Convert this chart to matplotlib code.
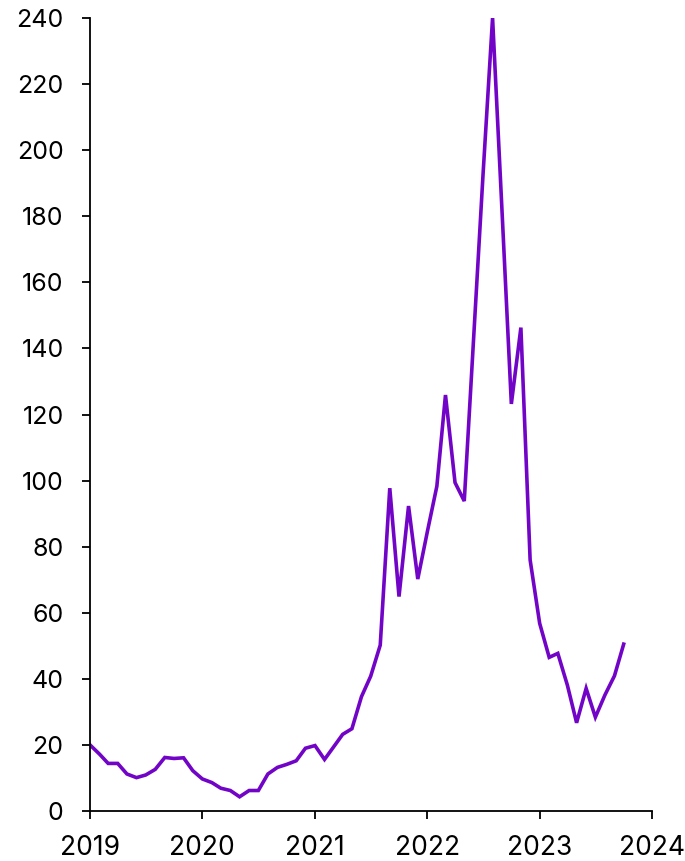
import numpy as np
import pandas as pd
import matplotlib
matplotlib.use("Agg")
import matplotlib.pyplot as plt
import matplotlib.dates as mdates

plt.rcParams['font.family'] = ['Inter', 'DejaVu Sans']

# monthly values, Jan 2019 - Oct 2023
start = '2019-01-01'
values = [20.0, 17.2, 14.4, 14.4, 11.2, 10.1, 10.9, 12.6, 16.2, 15.9, 16.1, 12.2,
          9.7, 8.6, 6.9, 6.2, 4.3, 6.2, 6.2, 11.2, 13.2, 14.1, 15.2, 19.0,
          19.8, 15.6, 19.2, 23.2, 24.9, 34.6, 40.8, 50.2, 97.7, 64.9, 92.3, 70.2,
          84.5, 98.3, 125.9, 99.4, 93.8, 144.0, 192.6, 240.0, 181.0, 123.2, 146.3, 76.0,
          56.8, 46.5, 47.7, 38.1, 26.7, 37.1, 28.4, 35.1, 40.9, 50.5]
yticks = list(range(0, 241, 20))

dates = pd.date_range(start, periods=len(values), freq='MS')

fig = plt.figure(figsize=(6.85, 8.61), dpi=100)
ax = fig.add_axes([90/685, 1-811/861, (652-90)/685, (811-18)/861])
ax.plot(dates, values, color='#7104c6', lw=2.6, solid_joinstyle='miter')

ax.set_xlim(pd.Timestamp('2019-01-01'), pd.Timestamp('2024-01-01'))
ax.set_ylim(0, 240)
ax.set_yticks(yticks)
ax.xaxis.set_major_locator(mdates.YearLocator())
ax.xaxis.set_major_formatter(mdates.DateFormatter('%Y'))

for s in ['top', 'right']:
    ax.spines[s].set_visible(False)
for s in ['left', 'bottom']:
    ax.spines[s].set_linewidth(1.3)
ax.tick_params(axis='both', length=6, width=1.3, colors='black')
ax.tick_params(axis='x', labelsize=19, pad=11)
ax.tick_params(axis='y', labelsize=18, pad=13)

fig.savefig('out.png', dpi=100)
